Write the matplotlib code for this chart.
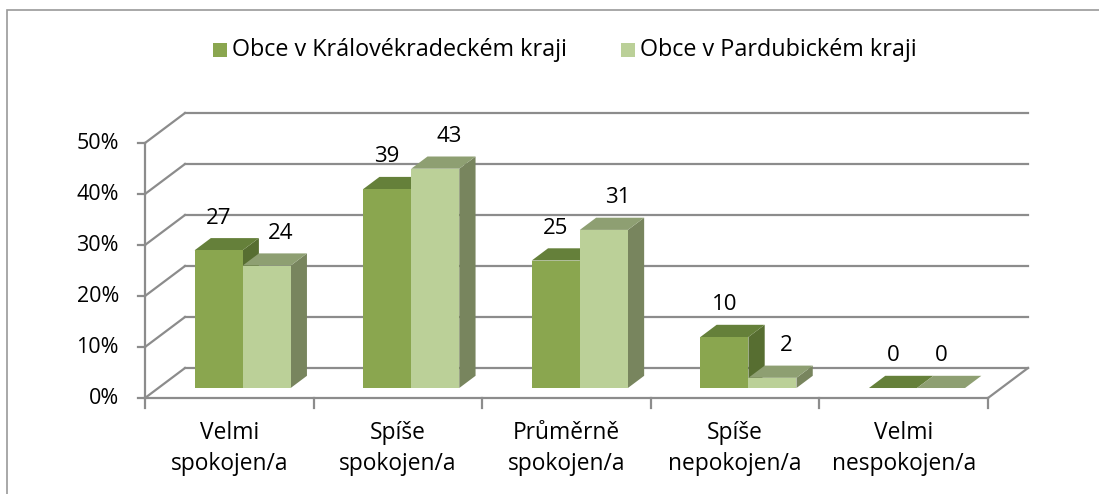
import matplotlib
matplotlib.use("Agg")
import matplotlib.pyplot as plt
from matplotlib.patches import Polygon, Rectangle

categories = [
    "Velmi\nspokojen/a",
    "Spíše\nspokojen/a",
    "Průměrně\nspokojen/a",
    "Spíše\nnepokojen/a",
    "Velmi\nnespokojen/a",
]
series_names = ["Obce v Královékradeckém kraji", "Obce v Pardubickém kraji"]
hradec = [27, 39, 25, 10, 0]
pardubice = [24, 43, 31, 2, 0]
y_ticks = [0, 10, 20, 30, 40, 50]

plt.rcParams["font.family"] = ["Open Sans", "DejaVu Sans"]

W, H = 1099, 494
fig = plt.figure(figsize=(W / 100, H / 100), dpi=100)
ax = fig.add_axes([0, 0, 1, 1])

# pixel layout of the fake 3D box
px0, py0 = 145, 398          # front-left-bottom corner
cat_px = 168.6               # one category in pixels
pct_px = 5.1                 # one percent in pixels
ax.set_xlim(-px0 / cat_px, (W - px0) / cat_px)
ax.set_ylim((py0 - H) / pct_px, py0 / pct_px)
ax.axis("off")

DX = 40 / cat_px             # full depth shift, x
DY = 30 / pct_px             # full depth shift, y
ncat = len(categories)
ymax = y_ticks[-1]


def proj(x, y, d):
    return (x + d * DX, y + d * DY)


grid_c = "#8c8c8c"
lw = 1.6

# floor
ax.plot([0, ncat], [0, 0], color=grid_c, lw=lw, zorder=2)
xs, ys = zip(proj(ncat, 0, 0), proj(ncat, 0, 1))
ax.plot(xs, ys, color=grid_c, lw=lw, zorder=2)

# back wall gridlines + left wall diagonals
for t in y_ticks:
    a, b = proj(0, t, 1), proj(ncat, t, 1)
    ax.plot([a[0], b[0]], [a[1], b[1]], color=grid_c, lw=lw, zorder=1)
    ax.plot([0, a[0]], [t, a[1]], color=grid_c, lw=lw, zorder=1)
    ax.plot([-7 / cat_px, 0], [t, t], color=grid_c, lw=lw, zorder=2)
    ax.text(-26 / cat_px, t, f"{t}%", ha="right", va="center", fontsize=15.5)

# front value axis
ax.plot([0, 0], [0, ymax], color=grid_c, lw=lw, zorder=2)
for i in range(ncat + 1):
    ax.plot([i, i], [0, -10 / pct_px], color=grid_c, lw=lw, zorder=2)

# category labels
for i, lab in enumerate(categories):
    ax.text(i + 0.5, -23 / pct_px, lab, ha="center", va="top", fontsize=16.4,
            linespacing=1.4)

# bars
d0, d1 = 0.333, 0.74
bw = 0.285
styles = [
    dict(front="#8aa64f", top="#65803a", side="#576e31"),
    dict(front="#bbd098", top="#8e9f72", side="#78855e"),
]


def draw_bar(x0, x1, h, st):
    side = [proj(x1, 0, d0), proj(x1, 0, d1), proj(x1, h, d1), proj(x1, h, d0)]
    top = [proj(x0, h, d0), proj(x1, h, d0), proj(x1, h, d1), proj(x0, h, d1)]
    front = [proj(x0, 0, d0), proj(x1, 0, d0), proj(x1, h, d0), proj(x0, h, d0)]
    for poly, c in ((side, st["side"]), (top, st["top"]), (front, st["front"])):
        ax.add_patch(Polygon(poly, closed=True, facecolor=c, edgecolor="none",
                             zorder=3))


for i in range(ncat):
    c = i + 0.5
    for k, vals in enumerate((hradec, pardubice)):
        x0 = c - bw + k * bw
        x1 = x0 + bw
        h = vals[i]
        draw_bar(x0, x1, h, styles[k])
        ly = proj(x0, h, d1)[1]
        lx = (x0 + x1) / 2 + d0 * DX + (0.08 if (k == 1 and h > 0) else 0)
        ax.text(lx, ly + 20 / pct_px, str(h), ha="center", va="center",
                fontsize=16, zorder=4)

# legend
leg_y = (py0 - 50) / pct_px
for k, (name, st, lx) in enumerate(zip(series_names, styles, (213, 621))):
    x = (lx - px0) / cat_px
    ax.add_patch(Rectangle((x, leg_y - 7 / pct_px), 14 / cat_px, 14 / pct_px,
                           facecolor=st["front"], edgecolor="none"))
    ax.text(x + 19 / cat_px, leg_y, name, ha="left", va="center", fontsize=16.8)

# outer chart border
fig.patches.append(Rectangle((7 / W, -0.1), 1.2, (H - 10) / H + 0.1,
                             transform=fig.transFigure, facecolor="none",
                             edgecolor="#9a9a9a", lw=1.2))

fig.savefig("out.png", dpi=100, facecolor="white")
